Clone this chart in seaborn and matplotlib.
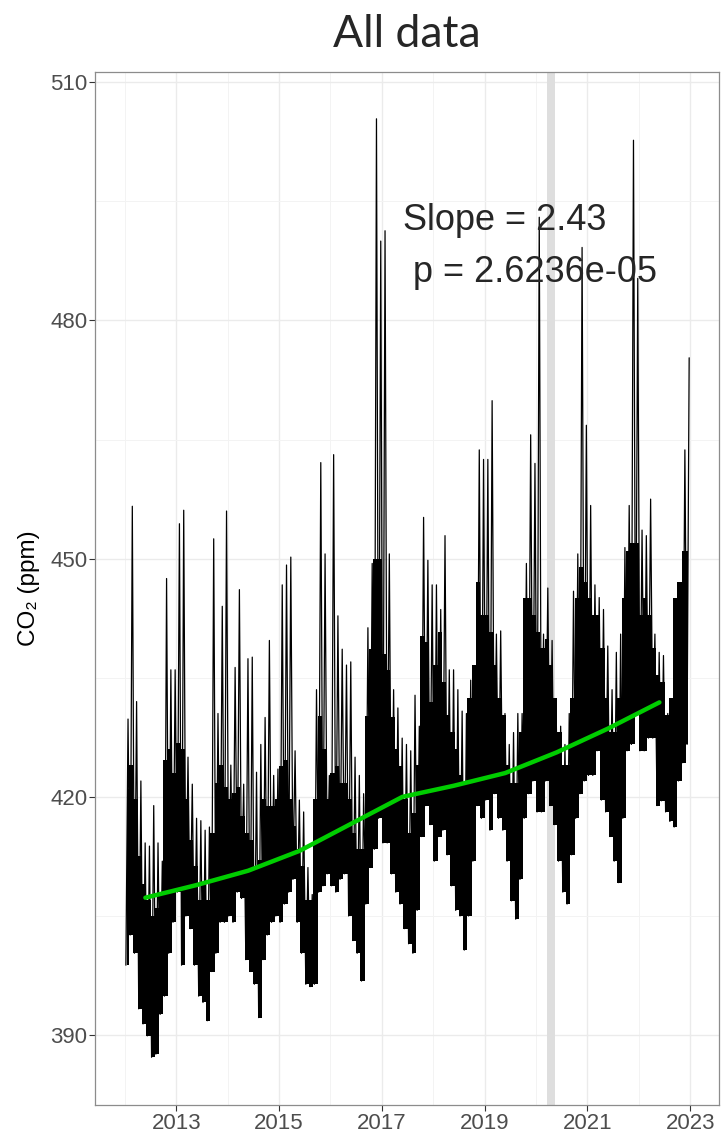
import pandas as pd
import seaborn as sns
import matplotlib.pyplot as plt

# monthly envelope of the daily CO2 record (ppm), Jan 2012 .. Dec 2022
monthly_low = [
  398.8, 402.6, 400.3, 393.3, 391.4, 389.9, 387.2, 387.6, 392.6, 394.9, 400.3, 404.2,  # 2012
  408.0, 398.8, 405.0, 403.4, 398.8, 394.9, 394.1, 391.8, 398.0, 400.3, 404.2, 404.2,  # 2013
  405.0, 404.2, 408.0, 407.2, 399.5, 398.0, 396.4, 392.2, 399.5, 402.6, 404.2, 405.0,  # 2014
  404.2, 406.5, 408.0, 409.6, 404.2, 400.3, 396.4, 396.1, 396.4, 408.0, 408.8, 410.3,  # 2015
  408.8, 408.0, 409.6, 410.3, 405.0, 401.9, 400.3, 396.8, 406.5, 411.1, 413.4, 417.3,  # 2016
  414.2, 414.2, 410.3, 408.0, 406.5, 403.4, 401.5, 400.3, 405.7, 415.0, 418.9, 416.5,  # 2017
  411.9, 415.0, 415.8, 412.7, 408.8, 405.7, 405.0, 400.7, 405.0, 411.9, 418.9, 417.3,  # 2018
  419.6, 415.8, 420.4, 417.3, 415.8, 411.9, 406.9, 404.6, 409.6, 417.3, 420.4, 422.0,  # 2019
  418.1, 418.1, 422.0, 418.9, 416.5, 411.9, 408.0, 406.5, 412.7, 417.3, 420.4, 422.0,  # 2020
  422.7, 422.7, 425.8, 419.6, 418.1, 415.0, 411.9, 409.2, 417.3, 425.8, 426.6, 430.5,  # 2021
  425.8, 425.8, 427.4, 427.4, 418.9, 419.5, 418.1, 416.9, 416.2, 422.0, 424.3, 426.6,  # 2022
]
# upper edge of the dense part of the record
monthly_core = [
  421.0, 424.0, 419.7, 412.5, 409.0, 407.0, 405.0, 406.0, 408.0, 424.7, 426.0, 423.0,  # 2012
  426.8, 426.0, 419.7, 414.6, 411.3, 407.0, 409.0, 407.0, 415.5, 421.8, 424.0, 421.3,  # 2013
  419.7, 420.5, 421.3, 417.6, 415.5, 414.6, 411.3, 412.0, 419.7, 418.8, 418.8, 419.7,  # 2014
  423.9, 424.7, 419.7, 416.3, 413.4, 411.3, 407.0, 407.0, 419.7, 430.2, 426.0, 419.7,  # 2015
  423.0, 423.9, 421.8, 421.8, 419.7, 415.5, 413.4, 413.4, 430.2, 438.6, 450.0, 450.0,  # 2016
  438.0, 436.0, 430.0, 426.0, 423.9, 419.7, 415.5, 418.0, 424.0, 440.3, 439.5, 432.0,  # 2017
  436.6, 440.8, 434.5, 430.3, 428.2, 426.0, 422.7, 421.8, 432.4, 436.6, 447.0, 442.9,  # 2018
  442.9, 440.8, 436.6, 432.4, 430.3, 424.0, 421.8, 421.8, 428.2, 445.0, 445.0, 442.9,  # 2019
  440.8, 438.7, 439.9, 436.6, 432.4, 428.2, 424.0, 424.0, 432.4, 445.0, 449.0, 447.0,  # 2020
  445.0, 442.9, 442.9, 438.7, 432.4, 428.2, 428.2, 432.4, 445.0, 451.0, 452.0, 452.0,  # 2021
  442.9, 445.0, 442.9, 438.7, 435.3, 434.5, 430.3, 432.4, 445.0, 447.0, 451.0, 451.0,  # 2022
]
monthly_high = [
  429.8, 456.6, 432.0, 422.0, 414.2, 413.8, 418.9, 414.2, 411.9, 447.5, 436.0, 436.0,  # 2012
  454.4, 456.1, 425.0, 421.6, 417.3, 417.0, 415.8, 416.2, 452.5, 430.5, 444.0, 456.0,  # 2013
  424.0, 436.3, 446.1, 421.6, 437.4, 437.6, 423.1, 426.6, 430.0, 439.7, 422.7, 423.5,  # 2014
  446.7, 449.2, 450.2, 425.8, 419.6, 418.1, 411.1, 407.7, 433.5, 462.1, 450.6, 422.7,  # 2015
  463.1, 442.8, 438.6, 436.6, 437.0, 425.0, 422.7, 420.4, 441.3, 449.4, 505.4, 490.0,  # 2016
  491.3, 450.6, 433.5, 431.2, 427.4, 426.6, 425.8, 432.8, 428.9, 455.2, 449.8, 446.7,  # 2017
  446.7, 443.6, 452.9, 436.0, 436.0, 433.5, 430.8, 430.5, 434.7, 434.7, 463.7, 462.5,  # 2018
  462.5, 469.9, 440.5, 440.9, 430.5, 426.6, 428.1, 430.5, 430.5, 449.4, 465.6, 462.0,  # 2019
  493.0, 440.5, 446.3, 439.7, 428.9, 428.9, 426.6, 430.5, 445.9, 450.6, 489.2, 466.8,  # 2020
  456.7, 446.7, 445.1, 443.6, 439.0, 433.5, 438.2, 440.5, 451.4, 456.7, 502.7, 485.3,  # 2021
  453.6, 452.9, 457.5, 440.5, 438.2, 437.8, 430.5, 429.7, 442.0, 446.7, 463.7, 475.3,  # 2022
]

# yearly trend (green line)
trend_years = [2012, 2013, 2014, 2015, 2016, 2017, 2018, 2019, 2020, 2021, 2022]
trend_values = [407.3, 408.9, 410.7, 413.2, 416.6, 420.0, 421.4, 423.0, 425.6, 428.6, 431.9]

lockdown = (2020.21, 2020.36)
slope_text = 'Slope = 2.43'
p_text = ' p = 2.6236e-05'

months = pd.DataFrame({
  'year': [2012 + (m + 0.5) / 12 for m in range(len(monthly_low))],
  'low': monthly_low,
  'core': monthly_core,
})

t, v = [], []
for m in range(len(monthly_low)):
  base = 2012 + m / 12
  t += [base + 0.25 / 12, base + 0.75 / 12]
  v += [monthly_low[m], monthly_high[m]]
df = pd.DataFrame({'year': t, 'co2': v})

trend = pd.DataFrame({'year': [y + 0.4 for y in trend_years], 'co2': trend_values})

sns.set_style('white')
plt.rcParams['font.family'] = ['Liberation Sans', 'DejaVu Sans']

fig, ax = plt.subplots(figsize=(7.23, 11.35), dpi=100)
fig.subplots_adjust(left=0.1314, right=0.9945, bottom=0.0265, top=0.9366)

ax.axvspan(*lockdown, color='#DEDEDE', lw=0, zorder=1)
ax.fill_between(months['year'], months['low'], months['core'], step='mid',
                color='black', lw=0, zorder=2)
sns.lineplot(data=df, x='year', y='co2', color='black', lw=0.9,
             estimator=None, sort=False, ax=ax, zorder=2)
sns.lineplot(data=trend, x='year', y='co2', color='#00CD00', lw=3.2,
             estimator=None, ax=ax, zorder=3)

ax.set_xlim(2011.42, 2023.56)
ax.set_ylim(381.2, 511.3)
ax.set_xticks(range(2013, 2024, 2))
ax.set_xticks(range(2012, 2024, 2), minor=True)
ax.set_yticks([390, 420, 450, 480, 510])
ax.set_yticks([405, 435, 465, 495], minor=True)
ax.grid(which='major', color='#EBEBEB', lw=1.0)
ax.grid(which='minor', color='#F3F3F3', lw=0.7)
ax.set_axisbelow(True)

for s in ax.spines.values():
  s.set_color('#8C8C8C')
  s.set_linewidth(0.9)

ax.tick_params(which='major', length=4, width=0.8, color='#333333',
               labelsize=16, labelcolor='#4D4D4D', left=True, bottom=True, pad=1.5)
ax.tick_params(which='minor', length=0)

ax.set_xlabel('')
ax.set_ylabel('CO₂ (ppm)', fontsize=17.5, color='black', labelpad=7)
ax.set_title('All data', fontsize=32, family=['Lato', 'DejaVu Sans'], pad=18)

ax.text(2017.42, 491.4, slope_text, ha='left', va='baseline', fontsize=26)
ax.text(2017.42, 484.8, p_text, ha='left', va='baseline', fontsize=26)

fig.savefig('out.png', dpi=100)
